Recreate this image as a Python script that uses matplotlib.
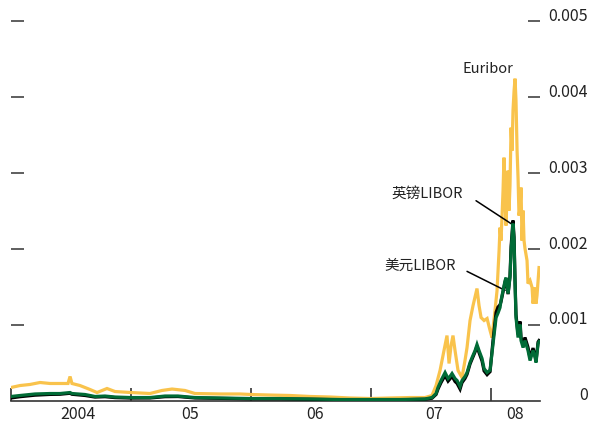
import matplotlib
matplotlib.use("Agg")
import matplotlib.pyplot as plt
import matplotlib.transforms as mtransforms

plt.rcParams['font.family'] = ['Noto Sans CJK SC', 'DejaVu Sans']

# Decimal-year dates and spread values
euribor_t = [2004.000, 2004.075, 2004.158, 2004.242, 2004.325, 2004.408, 2004.475, 2004.492,
             2004.508, 2004.575, 2004.658, 2004.717, 2004.800, 2004.867, 2005.000, 2005.158,
             2005.258, 2005.342, 2005.450, 2005.533, 2005.742, 2005.908, 2006.000, 2006.158,
             2006.325, 2006.492, 2006.658, 2006.825, 2007.000, 2007.158, 2007.325, 2007.450,
             2007.508, 2007.542, 2007.575, 2007.608, 2007.633, 2007.650, 2007.667, 2007.683,
             2007.700, 2007.725, 2007.758, 2007.783, 2007.800, 2007.825, 2007.850, 2007.883,
             2007.900, 2007.917, 2007.942, 2007.967, 2007.992, 2008.008, 2008.033, 2008.050,
             2008.067, 2008.075, 2008.083, 2008.092, 2008.100, 2008.108, 2008.117, 2008.125,
             2008.133, 2008.142, 2008.150, 2008.158, 2008.167, 2008.175, 2008.183, 2008.192,
             2008.200, 2008.208, 2008.217, 2008.225, 2008.233, 2008.242, 2008.250, 2008.258,
             2008.267, 2008.275, 2008.283, 2008.300, 2008.308, 2008.325, 2008.342, 2008.350,
             2008.367, 2008.375, 2008.383, 2008.400]
euribor_v = [0.000171, 0.000197, 0.000211, 0.000237, 0.000224, 0.000224, 0.000224, 0.000316,
             0.000224, 0.000197, 0.000145, 0.000105, 0.000158, 0.000118, 0.000105, 0.000092,
             0.000132, 0.000151, 0.000132, 0.000092, 0.000086, 0.000086, 0.000079, 0.000072,
             0.000066, 0.000053, 0.000046, 0.000033, 0.000026, 0.000033, 0.000039, 0.000039,
             0.000066, 0.000197, 0.000395, 0.000658, 0.000855, 0.000487, 0.000724, 0.000855,
             0.000658, 0.000395, 0.000303, 0.000526, 0.000697, 0.001053, 0.001250, 0.001474,
             0.001250, 0.001092, 0.001053, 0.001079, 0.000921, 0.000829, 0.001184, 0.001447,
             0.001974, 0.002276, 0.002105, 0.002434, 0.002763, 0.003197, 0.002632, 0.002303,
             0.002697, 0.003026, 0.002500, 0.002829, 0.003592, 0.003289, 0.003816, 0.004079,
             0.004237, 0.003947, 0.003289, 0.002934, 0.002434, 0.002539, 0.002803, 0.002105,
             0.002500, 0.002105, 0.002000, 0.001842, 0.001539, 0.001579, 0.001487, 0.001276,
             0.001487, 0.001276, 0.001382, 0.001750]

libor_t = [2004.000, 2004.075, 2004.200, 2004.325, 2004.408, 2004.492, 2004.508, 2004.617,
           2004.700, 2004.783, 2004.867, 2005.000, 2005.158, 2005.283, 2005.392, 2005.533,
           2005.742, 2006.000, 2006.242, 2006.492, 2006.742, 2007.000, 2007.242, 2007.450,
           2007.508, 2007.542, 2007.558, 2007.583, 2007.617, 2007.642, 2007.658, 2007.675,
           2007.700, 2007.717, 2007.742, 2007.758, 2007.783, 2007.800, 2007.825, 2007.842,
           2007.867, 2007.883, 2007.900, 2007.925, 2007.942, 2007.967, 2007.992, 2008.017,
           2008.042, 2008.058, 2008.075, 2008.083, 2008.100, 2008.117, 2008.125, 2008.142,
           2008.158, 2008.167, 2008.183, 2008.192, 2008.200, 2008.208, 2008.225, 2008.242,
           2008.250, 2008.267, 2008.283, 2008.308, 2008.325, 2008.350, 2008.367, 2008.375,
           2008.392, 2008.400]
usd_libor = [0.000053, 0.000066, 0.000086, 0.000092, 0.000092, 0.000105, 0.000092, 0.000079,
             0.000053, 0.000059, 0.000046, 0.000039, 0.000039, 0.000059, 0.000059, 0.000039,
             0.000033, 0.000026, 0.000026, 0.000020, 0.000013, 0.000013, 0.000013, 0.000020,
             0.000039, 0.000092, 0.000171, 0.000263, 0.000368, 0.000289, 0.000316, 0.000355,
             0.000289, 0.000263, 0.000184, 0.000263, 0.000316, 0.000368, 0.000500, 0.000566,
             0.000658, 0.000737, 0.000658, 0.000553, 0.000421, 0.000368, 0.000400, 0.000750,
             0.001092, 0.001150, 0.001224, 0.001316, 0.001447, 0.001579, 0.001618, 0.001408,
             0.001618, 0.001974, 0.002329, 0.002100, 0.001539, 0.001092, 0.000829, 0.001000,
             0.000789, 0.000697, 0.000789, 0.000658, 0.000526, 0.000658, 0.000566, 0.000500,
             0.000750, 0.000776]
gbp_libor = [0.000033, 0.000050, 0.000070, 0.000080, 0.000082, 0.000095, 0.000082, 0.000066,
             0.000045, 0.000050, 0.000038, 0.000032, 0.000033, 0.000050, 0.000052, 0.000033,
             0.000028, 0.000022, 0.000022, 0.000016, 0.000010, 0.000010, 0.000010, 0.000016,
             0.000030, 0.000080, 0.000150, 0.000235, 0.000330, 0.000255, 0.000285, 0.000320,
             0.000250, 0.000225, 0.000150, 0.000235, 0.000290, 0.000345, 0.000480, 0.000545,
             0.000640, 0.000715, 0.000630, 0.000520, 0.000390, 0.000340, 0.000380, 0.000800,
             0.001160, 0.001230, 0.001260, 0.001300, 0.001430, 0.001560, 0.001600, 0.001400,
             0.001640, 0.002030, 0.002370, 0.002150, 0.001580, 0.001130, 0.000870, 0.001040,
             0.000830, 0.000740, 0.000830, 0.000700, 0.000560, 0.000690, 0.000590, 0.000520,
             0.000770, 0.000790]

y_ticks = [0.001, 0.002, 0.003, 0.004, 0.005]
y_labels = ["0.001", "0.002", "0.003", "0.004", "0.005"]
year_ticks = [2004, 2005, 2006, 2007, 2008]
year_label_pos = [2004.56, 2005.49, 2006.53, 2007.525, 2008.2]
year_labels = ["2004", "05", "06", "07", "08"]

YELLOW = "#F9C34C"
GREEN = "#006B36"
TEXT = "#222222"

fig = plt.figure(figsize=(5.91, 4.25), dpi=100)
ax = fig.add_axes([11 / 591, (425 - 400.5) / 425, 529 / 591, 395 / 425])

ax.plot(euribor_t, euribor_v, color=YELLOW, lw=2.3, solid_joinstyle="miter", zorder=2)
ax.plot(libor_t, gbp_libor, color="black", lw=2.3, solid_joinstyle="miter", zorder=3)
ax.plot(libor_t, usd_libor, color=GREEN, lw=2.3, solid_joinstyle="miter", zorder=4)

ax.set_xlim(2004.0, 2008.408)
ax.set_ylim(0, 0.0052)

for side in ("top", "left", "right"):
    ax.spines[side].set_visible(False)
ax.spines["bottom"].set_color("#333333")
ax.spines["bottom"].set_linewidth(1.2)

ax.set_xticks(year_ticks)
ax.set_xticklabels([])
ax.tick_params(axis="x", direction="in", length=9.5, width=1.1, color="#222222")

ax.set_yticks(y_ticks)
ax.set_yticklabels([])
ax.tick_params(axis="y", which="both", direction="in", length=9, width=1.1,
               color="#333333", left=True, right=True)

# Right-hand value labels, right-aligned
trans_y = mtransforms.blended_transform_factory(ax.transAxes, ax.transData)
for v, lab in zip([0.0] + y_ticks, ["0"] + y_labels):
    ax.text(1.0907, v + 0.00006, lab, transform=trans_y, ha="right", va="center",
            fontsize=11.5, color=TEXT, clip_on=False)

# Year labels below the axis
trans_x = mtransforms.blended_transform_factory(ax.transData, ax.transAxes)
for p, lab in zip(year_label_pos, year_labels):
    ax.text(p, -0.035, lab, transform=trans_x, ha="center", va="center",
            fontsize=11.5, color=TEXT, clip_on=False)

# Series labels with leader lines
ax.text(2007.975, 0.00437, "Euribor", ha="center", va="center", fontsize=10.5, color=TEXT)
ax.text(2007.467, 0.00272, "英镑LIBOR", ha="center", va="center", fontsize=10.5, color=TEXT)
ax.text(2007.408, 0.00178, "美元LIBOR", ha="center", va="center", fontsize=10.5, color=TEXT)
ax.annotate("", xy=(2008.175, 0.00232), xytext=(2007.875, 0.00263),
            arrowprops=dict(arrowstyle="-", color="black", lw=1.1, shrinkA=0, shrinkB=0))
ax.annotate("", xy=(2008.117, 0.00145), xytext=(2007.800, 0.00170),
            arrowprops=dict(arrowstyle="-", color="black", lw=1.1, shrinkA=0, shrinkB=0))

fig.savefig("out.png", dpi=100)
